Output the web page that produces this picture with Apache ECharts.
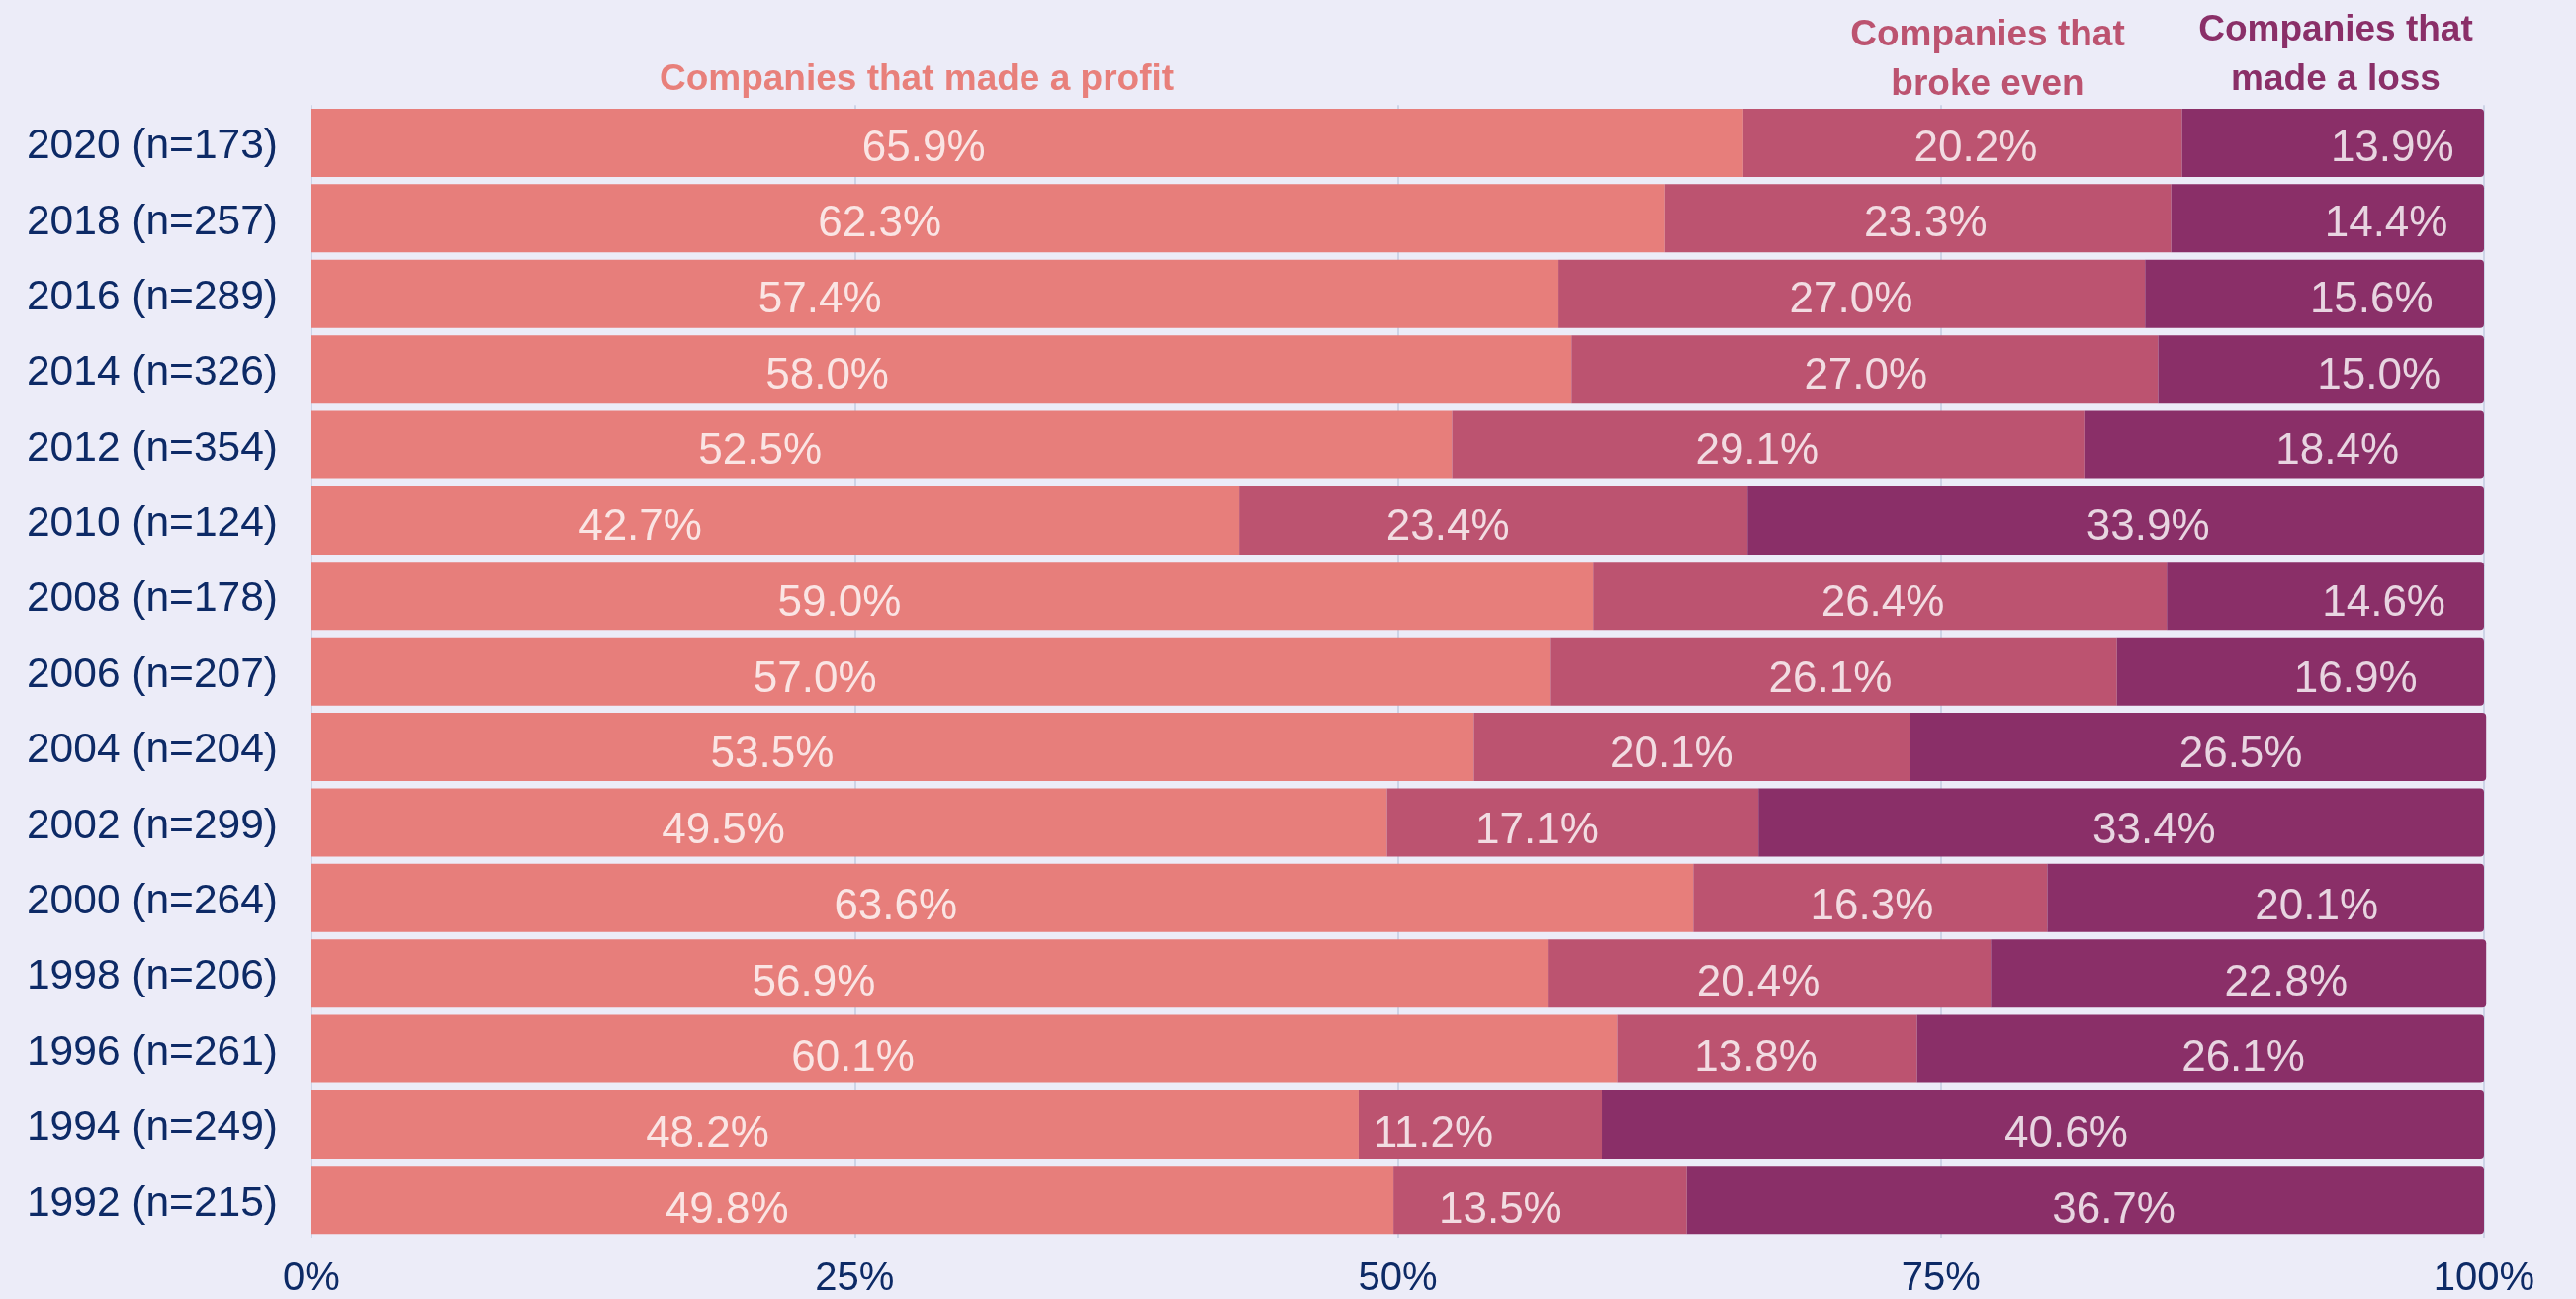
<!DOCTYPE html>
<html>
<head>
<meta charset="utf-8">
<script src="https://cdn.jsdelivr.net/npm/echarts@6/dist/echarts.min.js"></script>
<style>
html,body{margin:0;padding:0;background:#ECECF8;}
#chart{width:2605px;height:1314px;}
</style>
</head>
<body>
<div id="chart"></div>
<script>
const categories = ['2020 (n=173)','2018 (n=257)','2016 (n=289)','2014 (n=326)','2012 (n=354)','2010 (n=124)','2008 (n=178)','2006 (n=207)','2004 (n=204)','2002 (n=299)','2000 (n=264)','1998 (n=206)','1996 (n=261)','1994 (n=249)','1992 (n=215)'];
const profit = [65.9,62.3,57.4,58.0,52.5,42.7,59.0,57.0,53.5,49.5,63.6,56.9,60.1,48.2,49.8];
const evenVals = [20.2,23.3,27.0,27.0,29.1,23.4,26.4,26.1,20.1,17.1,16.3,20.4,13.8,11.2,13.5];
const loss = [13.9,14.4,15.6,15.0,18.4,33.9,14.6,16.9,26.5,33.4,20.1,22.8,26.1,40.6,36.7];
const seriesNames = ['Companies that made a profit','Companies that broke even','Companies that made a loss'];
const xTicks = [0,25,50,75,100];

const colors = ['#E77E7B','#BC5370','#8A2F68'];
const font = 'Liberation Sans, Arial, sans-serif';

// label points at the middle of each segment (value coordinates)
function mids(vals, base) {
  return vals.map((v,i)=>[base[i] + v/2, i, v]);
}
const zeros = profit.map(()=>0);
const base2 = profit.slice();
const base3 = profit.map((p,i)=>p+evenVals[i]);

const chart = echarts.init(document.getElementById('chart'));
const labelSeries = (vals, base) => ({
  type:'scatter', xAxisIndex:1, yAxisIndex:1,
  symbolSize:1, itemStyle:{color:'transparent'}, silent:true, z:10,
  data: mids(vals, base),
  label:{show:true, position:'inside', color:'#FFFFFF', fontSize:44, fontFamily:font,
    formatter:p=>p.value[2].toFixed(1)+'%'}
});
chart.setOption({
  backgroundColor:'#ECECF8',
  animation:false,
  grid:[
    {left:315, right:93, top:106.3, bottom:61.3},
    {left:120, right:14, top:112, bottom:51}
  ],
  xAxis:[
    {type:'value', min:0, max:100, interval:25,
     axisLine:{show:false}, axisTick:{show:false},
     splitLine:{show:true, lineStyle:{color:'#C3CCE2', width:1.5}},
     axisLabel:{color:'#0D2A66', fontSize:40, fontFamily:font, margin:22,
       formatter:v=>xTicks.includes(v)? v+'%' : ''}},
    {type:'value', gridIndex:1, min:0, max:100, show:false}
  ],
  yAxis:[
    {type:'category', data:categories, inverse:true,
     axisLine:{show:false}, axisTick:{show:false},
     axisLabel:{color:'#0D2A66', fontSize:42.5, fontFamily:font, margin:34,
       verticalAlign:'top', lineHeight:8}},
    {type:'category', gridIndex:1, data:categories, inverse:true, show:false}
  ],
  series:[
    {name:seriesNames[0], type:'bar', stack:'t', data:profit, barWidth:69, clip:false,
     itemStyle:{color:colors[0]}},
    {name:seriesNames[1], type:'bar', stack:'t', data:evenVals, barWidth:69, clip:false,
     itemStyle:{color:colors[1]}},
    {name:seriesNames[2], type:'bar', stack:'t', data:loss, barWidth:69, clip:false,
     itemStyle:{color:colors[2], borderRadius:[0,4,4,0]}},
    labelSeries(profit, zeros),
    labelSeries(evenVals, base2),
    labelSeries(loss, base3)
  ],
  graphic:[
    {type:'text', x:927, y:81, style:{text:seriesNames[0], fill:'#E8807B', font:'bold 37px '+font, align:'center', verticalAlign:'middle'}},
    {type:'text', x:2010, y:61, style:{text:'Companies that\nbroke even', fill:'#BC5370', font:'bold 37px '+font, lineHeight:50, align:'center', verticalAlign:'middle'}},
    {type:'text', x:2362, y:56, style:{text:'Companies that\nmade a loss', fill:'#8A2F68', font:'bold 37px '+font, lineHeight:50, align:'center', verticalAlign:'middle'}}
  ]
});
</script>
</body>
</html>
